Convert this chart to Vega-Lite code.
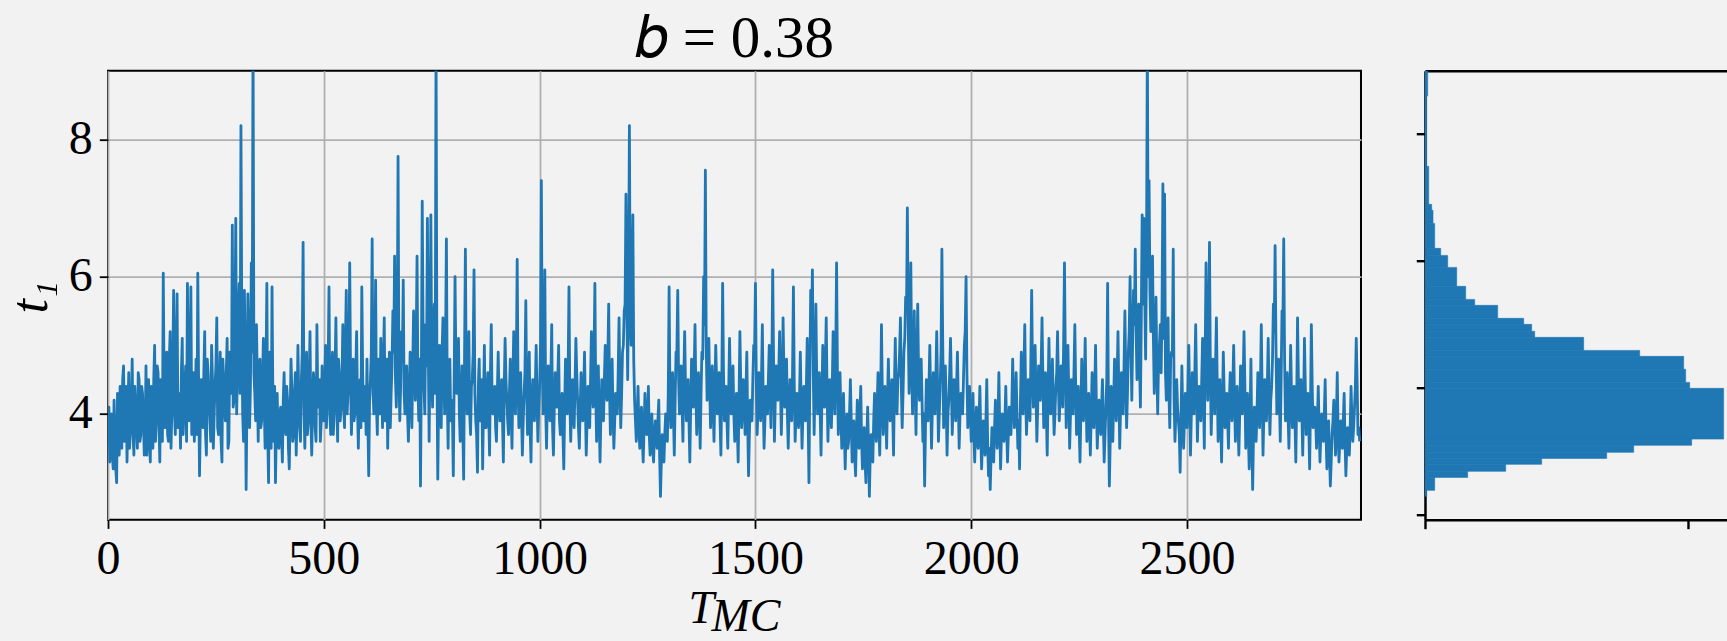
{
"$schema": "https://vega.github.io/schema/vega-lite/v6.json",
"background": "#f2f2f2",
"padding": {"left": 3, "top": 8.7, "right": 0, "bottom": 0},
"config": {
  "font": "Liberation Serif",
  "axis": {"labelFont": "Liberation Serif", "titleFont": "Liberation Serif", "domainColor": "#000000", "tickColor": "#000000", "labelColor": "#000000", "titleColor": "#000000", "gridColor": "#b0b0b0", "gridWidth": 1.8, "titleFontWeight": "normal"}
},
"datasets": {
"trace": [
{"T":0,"t":3.6},{"T":4,"t":3.3},{"T":8,"t":4.0},{"T":12,"t":3.2},{"T":16,"t":3.7},{"T":20,"t":3.0},{"T":24,"t":3.8},{"T":28,"t":4.4},{"T":32,"t":3.5},{"T":36,"t":4.7},{"T":40,"t":3.9},{"T":44,"t":3.3},{"T":48,"t":4.6},{"T":52,"t":3.8},{"T":56,"t":4.8},{"T":60,"t":3.4},{"T":64,"t":4.1},{"T":68,"t":3.5},{"T":72,"t":4.5},{"T":76,"t":3.7},{"T":80,"t":4.3},{"T":84,"t":3.4},{"T":88,"t":4.7},{"T":92,"t":4.0},{"T":96,"t":3.6},
{"T":100,"t":4.4},{"T":104,"t":3.5},{"T":108,"t":5.0},{"T":112,"t":3.9},{"T":116,"t":4.6},{"T":120,"t":3.3},{"T":124,"t":4.2},{"T":128,"t":6.05},{"T":132,"t":3.8},{"T":136,"t":4.9},{"T":140,"t":3.6},{"T":144,"t":5.2},{"T":148,"t":4.1},{"T":152,"t":5.8},{"T":156,"t":3.7},{"T":160,"t":5.75},{"T":164,"t":4.3},{"T":168,"t":3.5},{"T":172,"t":5.1},{"T":176,"t":4.0},{"T":180,"t":4.7},{"T":184,"t":5.9},{"T":188,"t":3.9},{"T":192,"t":5.85},{"T":196,"t":4.2},
{"T":200,"t":3.6},{"T":204,"t":4.8},{"T":208,"t":6.05},{"T":212,"t":3.1},{"T":216,"t":4.5},{"T":220,"t":3.8},{"T":224,"t":5.2},{"T":228,"t":3.4},{"T":232,"t":4.6},{"T":236,"t":3.9},{"T":240,"t":5.0},{"T":244,"t":3.5},{"T":248,"t":4.4},{"T":252,"t":5.4},{"T":256,"t":3.7},{"T":260,"t":4.9},{"T":264,"t":3.3},{"T":268,"t":4.5},{"T":272,"t":3.9},{"T":276,"t":5.1},{"T":280,"t":3.6},{"T":284,"t":4.7},{"T":288,"t":6.75},{"T":292,"t":4.2},{"T":296,"t":6.85},
{"T":300,"t":4.6},{"T":304,"t":5.9},{"T":308,"t":8.2},{"T":312,"t":4.0},{"T":316,"t":5.8},{"T":320,"t":2.9},{"T":324,"t":5.75},{"T":328,"t":3.8},{"T":332,"t":6.2},{"T":336,"t":9.6},{"T":340,"t":4.3},{"T":344,"t":5.3},{"T":348,"t":3.6},{"T":352,"t":4.8},{"T":356,"t":3.9},{"T":360,"t":5.1},{"T":364,"t":3.5},{"T":368,"t":5.9},{"T":372,"t":3.0},{"T":376,"t":4.4},{"T":380,"t":5.85},{"T":384,"t":3.6},{"T":388,"t":3.0},{"T":392,"t":4.3},{"T":396,"t":3.5},
{"T":400,"t":4.1},{"T":404,"t":3.3},{"T":408,"t":4.6},{"T":412,"t":3.7},{"T":416,"t":4.2},{"T":420,"t":3.2},{"T":424,"t":4.8},{"T":428,"t":3.6},{"T":432,"t":4.3},{"T":436,"t":3.4},{"T":440,"t":5.0},{"T":444,"t":3.8},{"T":448,"t":4.5},{"T":452,"t":6.5},{"T":456,"t":3.5},{"T":460,"t":4.9},{"T":464,"t":3.9},{"T":468,"t":5.2},{"T":472,"t":3.4},{"T":476,"t":4.6},{"T":480,"t":3.8},{"T":484,"t":5.3},{"T":488,"t":4.1},{"T":492,"t":3.6},{"T":496,"t":4.7},
{"T":500,"t":3.9},{"T":504,"t":5.0},{"T":508,"t":4.2},{"T":512,"t":5.85},{"T":516,"t":3.7},{"T":520,"t":4.9},{"T":524,"t":4.0},{"T":528,"t":5.4},{"T":532,"t":3.6},{"T":536,"t":4.6},{"T":540,"t":4.1},{"T":544,"t":5.3},{"T":548,"t":3.8},{"T":552,"t":5.8},{"T":556,"t":4.3},{"T":560,"t":6.2},{"T":564,"t":3.7},{"T":568,"t":4.8},{"T":572,"t":4.0},{"T":576,"t":5.2},{"T":580,"t":3.5},{"T":584,"t":4.5},{"T":588,"t":5.85},{"T":592,"t":3.9},{"T":596,"t":4.4},
{"T":600,"t":4.8},{"T":604,"t":3.1},{"T":608,"t":4.5},{"T":612,"t":6.55},{"T":616,"t":4.0},{"T":620,"t":5.95},{"T":624,"t":3.7},{"T":628,"t":4.6},{"T":632,"t":5.1},{"T":636,"t":3.8},{"T":640,"t":5.4},{"T":644,"t":4.2},{"T":648,"t":3.5},{"T":652,"t":4.9},{"T":656,"t":4.3},{"T":660,"t":5.5},{"T":664,"t":6.3},{"T":668,"t":4.1},{"T":672,"t":7.75},{"T":676,"t":3.9},{"T":680,"t":5.2},{"T":684,"t":5.95},{"T":688,"t":4.0},{"T":692,"t":4.7},{"T":696,"t":3.6},
{"T":700,"t":4.9},{"T":704,"t":3.8},{"T":708,"t":5.5},{"T":712,"t":4.2},{"T":716,"t":6.3},{"T":720,"t":3.9},{"T":724,"t":2.95},{"T":728,"t":7.1},{"T":732,"t":4.4},{"T":736,"t":5.3},{"T":740,"t":6.85},{"T":744,"t":3.6},{"T":748,"t":6.9},{"T":752,"t":4.1},{"T":756,"t":5.6},{"T":760,"t":9.5},{"T":764,"t":3.05},{"T":768,"t":5.0},{"T":772,"t":3.8},{"T":776,"t":5.4},{"T":780,"t":4.0},{"T":784,"t":6.55},{"T":788,"t":3.5},{"T":792,"t":4.8},{"T":796,"t":4.2},
{"T":800,"t":3.1},{"T":804,"t":6.0},{"T":808,"t":4.3},{"T":812,"t":5.1},{"T":816,"t":3.6},{"T":820,"t":4.7},{"T":824,"t":3.05},{"T":828,"t":6.4},{"T":832,"t":4.0},{"T":836,"t":5.2},{"T":840,"t":3.7},{"T":844,"t":4.5},{"T":848,"t":6.1},{"T":852,"t":3.9},{"T":856,"t":3.15},{"T":860,"t":4.8},{"T":864,"t":4.1},{"T":868,"t":3.2},{"T":872,"t":5.0},{"T":876,"t":3.8},{"T":880,"t":4.6},{"T":884,"t":3.4},{"T":888,"t":5.3},{"T":892,"t":4.0},{"T":896,"t":4.4},
{"T":900,"t":3.6},{"T":904,"t":4.9},{"T":908,"t":3.9},{"T":912,"t":4.5},{"T":916,"t":3.3},{"T":920,"t":5.1},{"T":924,"t":4.2},{"T":928,"t":3.7},{"T":932,"t":4.8},{"T":936,"t":3.5},{"T":940,"t":5.2},{"T":944,"t":4.0},{"T":948,"t":6.25},{"T":952,"t":3.8},{"T":956,"t":4.6},{"T":960,"t":3.4},{"T":964,"t":4.3},{"T":968,"t":5.65},{"T":972,"t":3.7},{"T":976,"t":4.9},{"T":980,"t":3.3},{"T":984,"t":4.5},{"T":988,"t":3.9},{"T":992,"t":5.0},{"T":996,"t":3.6},
{"T":1000,"t":4.4},{"T":1004,"t":7.4},{"T":1008,"t":4.0},{"T":1012,"t":6.1},{"T":1016,"t":3.5},{"T":1020,"t":4.7},{"T":1024,"t":3.9},{"T":1028,"t":5.3},{"T":1032,"t":3.4},{"T":1036,"t":4.6},{"T":1040,"t":4.1},{"T":1044,"t":5.0},{"T":1048,"t":3.7},{"T":1052,"t":4.3},{"T":1056,"t":3.2},{"T":1060,"t":4.8},{"T":1064,"t":4.0},{"T":1068,"t":5.85},{"T":1072,"t":3.6},{"T":1076,"t":4.5},{"T":1080,"t":3.8},{"T":1084,"t":5.1},{"T":1088,"t":4.2},{"T":1092,"t":3.5},{"T":1096,"t":4.6},
{"T":1100,"t":3.9},{"T":1104,"t":4.9},{"T":1108,"t":3.4},{"T":1112,"t":4.4},{"T":1116,"t":3.8},{"T":1120,"t":5.2},{"T":1124,"t":4.1},{"T":1128,"t":5.9},{"T":1132,"t":3.6},{"T":1136,"t":4.7},{"T":1140,"t":3.3},{"T":1144,"t":4.5},{"T":1148,"t":3.9},{"T":1152,"t":5.0},{"T":1156,"t":4.2},{"T":1160,"t":5.6},{"T":1164,"t":3.7},{"T":1168,"t":4.8},{"T":1172,"t":3.5},{"T":1176,"t":4.3},{"T":1180,"t":4.0},{"T":1184,"t":5.4},{"T":1188,"t":3.8},{"T":1192,"t":4.9},{"T":1196,"t":5.5},
{"T":1200,"t":7.2},{"T":1204,"t":4.5},{"T":1208,"t":8.2},{"T":1212,"t":5.0},{"T":1216,"t":6.9},{"T":1220,"t":4.2},{"T":1224,"t":3.6},{"T":1228,"t":4.4},{"T":1232,"t":3.5},{"T":1236,"t":4.1},{"T":1240,"t":3.3},{"T":1244,"t":4.3},{"T":1248,"t":3.7},{"T":1252,"t":4.4},{"T":1256,"t":3.4},{"T":1260,"t":4.0},{"T":1264,"t":3.3},{"T":1268,"t":3.9},{"T":1272,"t":3.5},{"T":1276,"t":4.2},{"T":1280,"t":2.8},{"T":1284,"t":3.7},{"T":1288,"t":3.3},{"T":1292,"t":4.0},{"T":1296,"t":3.6},
{"T":1300,"t":5.85},{"T":1304,"t":3.8},{"T":1308,"t":4.6},{"T":1312,"t":3.4},{"T":1316,"t":4.9},{"T":1320,"t":5.8},{"T":1324,"t":4.0},{"T":1328,"t":4.7},{"T":1332,"t":3.6},{"T":1336,"t":5.2},{"T":1340,"t":3.9},{"T":1344,"t":4.5},{"T":1348,"t":3.3},{"T":1352,"t":4.8},{"T":1356,"t":4.1},{"T":1360,"t":5.3},{"T":1364,"t":3.7},{"T":1368,"t":4.6},{"T":1372,"t":3.5},{"T":1376,"t":4.9},{"T":1380,"t":6.0},{"T":1384,"t":7.55},{"T":1388,"t":4.2},{"T":1392,"t":5.1},{"T":1396,"t":3.8},
{"T":1400,"t":4.7},{"T":1404,"t":3.6},{"T":1408,"t":5.0},{"T":1412,"t":4.0},{"T":1416,"t":4.6},{"T":1420,"t":3.4},{"T":1424,"t":5.9},{"T":1428,"t":3.9},{"T":1432,"t":4.4},{"T":1436,"t":3.5},{"T":1440,"t":5.1},{"T":1444,"t":4.0},{"T":1448,"t":4.7},{"T":1452,"t":3.6},{"T":1456,"t":4.3},{"T":1460,"t":3.3},{"T":1464,"t":5.2},{"T":1468,"t":3.8},{"T":1472,"t":4.5},{"T":1476,"t":3.7},{"T":1480,"t":4.9},{"T":1484,"t":3.1},{"T":1488,"t":4.2},{"T":1492,"t":3.9},{"T":1496,"t":5.0},
{"T":1500,"t":5.9},{"T":1504,"t":3.7},{"T":1508,"t":4.6},{"T":1512,"t":3.9},{"T":1516,"t":5.3},{"T":1520,"t":3.5},{"T":1524,"t":4.4},{"T":1528,"t":4.0},{"T":1532,"t":5.0},{"T":1536,"t":3.8},{"T":1540,"t":6.1},{"T":1544,"t":3.6},{"T":1548,"t":4.7},{"T":1552,"t":4.2},{"T":1556,"t":5.2},{"T":1560,"t":3.7},{"T":1564,"t":5.4},{"T":1568,"t":4.1},{"T":1572,"t":4.8},{"T":1576,"t":3.5},{"T":1580,"t":4.5},{"T":1584,"t":3.9},{"T":1588,"t":5.85},{"T":1592,"t":3.6},{"T":1596,"t":4.3},
{"T":1600,"t":3.8},{"T":1604,"t":4.9},{"T":1608,"t":3.5},{"T":1612,"t":4.4},{"T":1616,"t":3.9},{"T":1620,"t":5.1},{"T":1624,"t":3.0},{"T":1628,"t":5.8},{"T":1632,"t":6.1},{"T":1636,"t":3.7},{"T":1640,"t":5.6},{"T":1644,"t":4.0},{"T":1648,"t":4.6},{"T":1652,"t":3.4},{"T":1656,"t":5.0},{"T":1660,"t":4.1},{"T":1664,"t":5.4},{"T":1668,"t":3.6},{"T":1672,"t":4.5},{"T":1676,"t":3.8},{"T":1680,"t":5.2},{"T":1684,"t":4.0},{"T":1688,"t":6.2},{"T":1692,"t":3.7},{"T":1696,"t":4.6},
{"T":1700,"t":3.5},{"T":1704,"t":4.3},{"T":1708,"t":3.2},{"T":1712,"t":4.0},{"T":1716,"t":3.6},{"T":1720,"t":4.5},{"T":1724,"t":3.3},{"T":1728,"t":3.9},{"T":1732,"t":3.1},{"T":1736,"t":4.2},{"T":1740,"t":3.5},{"T":1744,"t":4.4},{"T":1748,"t":3.2},{"T":1752,"t":3.8},{"T":1756,"t":3.0},{"T":1760,"t":4.1},{"T":1764,"t":2.8},{"T":1768,"t":3.7},{"T":1772,"t":3.3},{"T":1776,"t":4.3},{"T":1780,"t":3.6},{"T":1784,"t":4.6},{"T":1788,"t":3.4},{"T":1792,"t":5.3},{"T":1796,"t":3.7},
{"T":1800,"t":4.4},{"T":1804,"t":3.5},{"T":1808,"t":4.8},{"T":1812,"t":3.9},{"T":1816,"t":4.5},{"T":1820,"t":3.4},{"T":1824,"t":5.1},{"T":1828,"t":4.0},{"T":1832,"t":4.6},{"T":1836,"t":5.4},{"T":1840,"t":3.8},{"T":1844,"t":4.9},{"T":1848,"t":5.7},{"T":1852,"t":7.0},{"T":1856,"t":4.3},{"T":1860,"t":6.2},{"T":1864,"t":4.0},{"T":1868,"t":5.5},{"T":1872,"t":3.7},{"T":1876,"t":5.6},{"T":1880,"t":4.2},{"T":1884,"t":4.8},{"T":1888,"t":3.6},{"T":1892,"t":2.95},{"T":1896,"t":4.5},
{"T":1900,"t":3.9},{"T":1904,"t":5.0},{"T":1908,"t":3.5},{"T":1912,"t":4.6},{"T":1916,"t":4.0},{"T":1920,"t":5.2},{"T":1924,"t":3.6},{"T":1928,"t":4.4},{"T":1932,"t":6.4},{"T":1936,"t":3.8},{"T":1940,"t":4.7},{"T":1944,"t":3.4},{"T":1948,"t":4.2},{"T":1952,"t":5.1},{"T":1956,"t":3.7},{"T":1960,"t":4.5},{"T":1964,"t":3.9},{"T":1968,"t":4.9},{"T":1972,"t":3.5},{"T":1976,"t":4.3},{"T":1980,"t":4.0},{"T":1984,"t":5.0},{"T":1988,"t":6.0},{"T":1992,"t":3.8},{"T":1996,"t":4.4},
{"T":2000,"t":3.6},{"T":2004,"t":4.3},{"T":2008,"t":3.3},{"T":2012,"t":4.1},{"T":2016,"t":3.5},{"T":2020,"t":4.4},{"T":2024,"t":3.2},{"T":2028,"t":3.9},{"T":2032,"t":3.4},{"T":2036,"t":4.5},{"T":2040,"t":3.1},{"T":2044,"t":2.9},{"T":2048,"t":3.8},{"T":2052,"t":3.3},{"T":2056,"t":4.2},{"T":2060,"t":3.5},{"T":2064,"t":4.6},{"T":2068,"t":3.2},{"T":2072,"t":4.0},{"T":2076,"t":3.6},{"T":2080,"t":4.4},{"T":2084,"t":3.3},{"T":2088,"t":4.1},{"T":2092,"t":3.7},{"T":2096,"t":4.8},
{"T":2100,"t":3.8},{"T":2104,"t":4.6},{"T":2108,"t":3.5},{"T":2112,"t":3.2},{"T":2116,"t":4.9},{"T":2120,"t":4.0},{"T":2124,"t":5.3},{"T":2128,"t":3.7},{"T":2132,"t":4.5},{"T":2136,"t":3.9},{"T":2140,"t":5.8},{"T":2144,"t":4.1},{"T":2148,"t":5.0},{"T":2152,"t":3.6},{"T":2156,"t":4.7},{"T":2160,"t":4.2},{"T":2164,"t":5.4},{"T":2168,"t":3.8},{"T":2172,"t":4.6},{"T":2176,"t":3.4},{"T":2180,"t":5.1},{"T":2184,"t":4.0},{"T":2188,"t":4.8},{"T":2192,"t":3.7},{"T":2196,"t":4.4},
{"T":2200,"t":5.2},{"T":2204,"t":3.9},{"T":2208,"t":4.7},{"T":2212,"t":4.1},{"T":2216,"t":6.2},{"T":2220,"t":3.8},{"T":2224,"t":5.0},{"T":2228,"t":3.5},{"T":2232,"t":4.5},{"T":2236,"t":4.0},{"T":2240,"t":5.3},{"T":2244,"t":3.7},{"T":2248,"t":4.4},{"T":2252,"t":3.3},{"T":2256,"t":4.8},{"T":2260,"t":3.9},{"T":2264,"t":5.1},{"T":2268,"t":3.6},{"T":2272,"t":4.3},{"T":2276,"t":3.4},{"T":2280,"t":4.6},{"T":2284,"t":3.8},{"T":2288,"t":5.0},{"T":2292,"t":3.5},{"T":2296,"t":4.2},
{"T":2300,"t":3.7},{"T":2304,"t":4.5},{"T":2308,"t":3.3},{"T":2312,"t":4.1},{"T":2316,"t":5.9},{"T":2320,"t":2.95},{"T":2324,"t":4.4},{"T":2328,"t":3.6},{"T":2332,"t":4.8},{"T":2336,"t":3.9},{"T":2340,"t":5.2},{"T":2344,"t":3.5},{"T":2348,"t":4.6},{"T":2352,"t":4.0},{"T":2356,"t":5.5},{"T":2360,"t":3.8},{"T":2364,"t":4.9},{"T":2368,"t":6.0},{"T":2372,"t":4.2},{"T":2376,"t":5.8},{"T":2380,"t":6.4},{"T":2384,"t":4.5},{"T":2388,"t":5.6},{"T":2392,"t":4.1},{"T":2396,"t":6.9},
{"T":2400,"t":6.85},{"T":2404,"t":4.8},{"T":2408,"t":9.5},{"T":2412,"t":7.4},{"T":2416,"t":5.2},{"T":2420,"t":6.3},{"T":2424,"t":4.3},{"T":2428,"t":5.7},{"T":2432,"t":4.0},{"T":2436,"t":5.0},{"T":2440,"t":4.6},{"T":2444,"t":7.35},{"T":2448,"t":7.2},{"T":2452,"t":4.2},{"T":2456,"t":5.4},{"T":2460,"t":3.8},{"T":2464,"t":4.9},{"T":2468,"t":6.4},{"T":2472,"t":3.6},{"T":2476,"t":4.5},{"T":2480,"t":3.9},{"T":2484,"t":3.15},{"T":2488,"t":4.7},{"T":2492,"t":3.5},{"T":2496,"t":4.3},
{"T":2500,"t":3.8},{"T":2504,"t":5.0},{"T":2508,"t":3.4},{"T":2512,"t":4.6},{"T":2516,"t":4.0},{"T":2520,"t":5.3},{"T":2524,"t":3.6},{"T":2528,"t":4.4},{"T":2532,"t":3.9},{"T":2536,"t":5.1},{"T":2540,"t":3.5},{"T":2544,"t":6.2},{"T":2548,"t":4.2},{"T":2552,"t":6.5},{"T":2556,"t":3.7},{"T":2560,"t":4.8},{"T":2564,"t":4.0},{"T":2568,"t":5.4},{"T":2572,"t":3.6},{"T":2576,"t":4.5},{"T":2580,"t":3.3},{"T":2584,"t":4.9},{"T":2588,"t":3.8},{"T":2592,"t":4.3},{"T":2596,"t":3.5},
{"T":2600,"t":4.6},{"T":2604,"t":3.9},{"T":2608,"t":5.0},{"T":2612,"t":3.6},{"T":2616,"t":4.4},{"T":2620,"t":3.4},{"T":2624,"t":4.7},{"T":2628,"t":4.0},{"T":2632,"t":5.2},{"T":2636,"t":3.5},{"T":2640,"t":4.3},{"T":2644,"t":3.2},{"T":2648,"t":4.8},{"T":2652,"t":2.9},{"T":2656,"t":4.1},{"T":2660,"t":3.6},{"T":2664,"t":4.6},{"T":2668,"t":3.8},{"T":2672,"t":5.3},{"T":2676,"t":3.4},{"T":2680,"t":4.5},{"T":2684,"t":3.9},{"T":2688,"t":5.1},{"T":2692,"t":3.7},{"T":2696,"t":4.4},
{"T":2700,"t":5.6},{"T":2704,"t":6.45},{"T":2708,"t":4.0},{"T":2712,"t":4.8},{"T":2716,"t":3.6},{"T":2720,"t":5.5},{"T":2724,"t":6.55},{"T":2728,"t":3.9},{"T":2732,"t":4.6},{"T":2736,"t":3.5},{"T":2740,"t":5.0},{"T":2744,"t":3.8},{"T":2748,"t":4.4},{"T":2752,"t":3.3},{"T":2756,"t":5.4},{"T":2760,"t":3.9},{"T":2764,"t":4.5},{"T":2768,"t":3.4},{"T":2772,"t":5.1},{"T":2776,"t":3.7},{"T":2780,"t":4.3},{"T":2784,"t":3.2},{"T":2788,"t":5.3},{"T":2792,"t":3.8},{"T":2796,"t":4.1},
{"T":2800,"t":3.5},{"T":2804,"t":4.4},{"T":2808,"t":3.3},{"T":2812,"t":4.0},{"T":2816,"t":3.6},{"T":2820,"t":4.5},{"T":2824,"t":3.2},{"T":2828,"t":3.9},{"T":2832,"t":2.95},{"T":2836,"t":3.7},{"T":2840,"t":4.2},{"T":2844,"t":3.4},{"T":2848,"t":4.6},{"T":2852,"t":3.3},{"T":2856,"t":3.9},{"T":2860,"t":3.5},{"T":2864,"t":4.3},{"T":2868,"t":3.1},{"T":2872,"t":3.8},{"T":2876,"t":3.4},{"T":2880,"t":4.4},{"T":2884,"t":3.6},{"T":2888,"t":4.1},{"T":2892,"t":5.1},{"T":2896,"t":3.7},{"T":2900,"t":3.6},
{"T":2,"t":4.1},{"T":6,"t":3.9},{"T":10,"t":3.4},{"T":14,"t":4.2},{"T":18,"t":3.2},{"T":22,"t":4.3},{"T":26,"t":3.4},{"T":30,"t":3.9},{"T":34,"t":4.5},{"T":38,"t":3.6},{"T":42,"t":4.4},{"T":46,"t":3.9},{"T":50,"t":3.5},{"T":54,"t":4.1},{"T":58,"t":3.7},{"T":62,"t":4.4},{"T":66,"t":3.8},{"T":70,"t":4.6},{"T":74,"t":3.6},{"T":78,"t":4.4},{"T":82,"t":3.9},{"T":86,"t":3.7},{"T":90,"t":3.4},{"T":94,"t":4.5},{"T":98,"t":3.3},
{"T":102,"t":3.8},{"T":106,"t":4.5},{"T":110,"t":3.6},{"T":114,"t":4.7},{"T":118,"t":3.9},{"T":122,"t":4.5},{"T":126,"t":3.6},{"T":130,"t":4.4},{"T":134,"t":4.3},{"T":138,"t":3.7},{"T":142,"t":4.8},{"T":146,"t":3.5},{"T":150,"t":4.6},{"T":154,"t":4.0},{"T":158,"t":4.9},{"T":162,"t":3.8},{"T":166,"t":4.2},{"T":170,"t":4.6},{"T":174,"t":3.7},{"T":178,"t":4.4},{"T":182,"t":3.6},{"T":186,"t":4.5},{"T":190,"t":4.8},{"T":194,"t":3.7},{"T":198,"t":4.6},
{"T":202,"t":4.2},{"T":206,"t":3.7},{"T":210,"t":4.4},{"T":214,"t":3.9},{"T":218,"t":4.1},{"T":222,"t":4.6},{"T":226,"t":3.7},{"T":230,"t":4.8},{"T":234,"t":4.2},{"T":238,"t":3.6},{"T":242,"t":4.5},{"T":246,"t":4.0},{"T":250,"t":4.7},{"T":254,"t":3.8},{"T":258,"t":4.3},{"T":262,"t":3.6},{"T":266,"t":4.8},{"T":270,"t":4.1},{"T":274,"t":4.6},{"T":278,"t":3.5},{"T":282,"t":4.9},{"T":286,"t":4.3},{"T":290,"t":4.1},{"T":294,"t":5.2},{"T":298,"t":4.0},
{"T":302,"t":5.5},{"T":306,"t":4.3},{"T":310,"t":5.2},{"T":314,"t":3.6},{"T":318,"t":4.7},{"T":322,"t":4.2},{"T":326,"t":5.0},{"T":330,"t":4.4},{"T":334,"t":4.9},{"T":338,"t":4.6},{"T":342,"t":3.9},{"T":346,"t":4.4},{"T":350,"t":4.7},{"T":354,"t":3.8},{"T":358,"t":4.5},{"T":362,"t":4.1},{"T":366,"t":4.6},{"T":370,"t":3.7},{"T":374,"t":4.9},{"T":378,"t":3.5},{"T":382,"t":4.2},{"T":386,"t":4.4},{"T":390,"t":3.8},{"T":394,"t":3.6},{"T":398,"t":4.0},
{"T":402,"t":3.7},{"T":406,"t":4.2},{"T":410,"t":3.8},{"T":414,"t":4.4},{"T":418,"t":3.5},{"T":422,"t":4.0},{"T":426,"t":4.3},{"T":430,"t":3.7},{"T":434,"t":4.6},{"T":438,"t":4.0},{"T":442,"t":4.2},{"T":446,"t":3.6},{"T":450,"t":4.9},{"T":454,"t":4.1},{"T":458,"t":4.3},{"T":462,"t":3.7},{"T":466,"t":4.5},{"T":470,"t":3.9},{"T":474,"t":4.1},{"T":478,"t":4.4},{"T":482,"t":3.6},{"T":486,"t":4.2},{"T":490,"t":4.5},{"T":494,"t":3.9},{"T":498,"t":4.1},
{"T":502,"t":4.4},{"T":506,"t":3.8},{"T":510,"t":4.7},{"T":514,"t":4.0},{"T":518,"t":4.5},{"T":522,"t":3.7},{"T":526,"t":4.6},{"T":530,"t":4.2},{"T":534,"t":4.8},{"T":538,"t":3.9},{"T":542,"t":4.4},{"T":546,"t":4.1},{"T":550,"t":5.0},{"T":554,"t":4.0},{"T":558,"t":4.7},{"T":562,"t":4.5},{"T":566,"t":4.2},{"T":570,"t":3.9},{"T":574,"t":4.6},{"T":578,"t":4.1},{"T":582,"t":4.3},{"T":586,"t":3.8},{"T":590,"t":4.6},{"T":594,"t":4.2},{"T":598,"t":3.7},
{"T":602,"t":3.9},{"T":606,"t":4.2},{"T":610,"t":4.9},{"T":614,"t":4.3},{"T":618,"t":4.5},{"T":622,"t":4.1},{"T":626,"t":4.8},{"T":630,"t":4.0},{"T":634,"t":4.6},{"T":638,"t":4.7},{"T":642,"t":3.9},{"T":646,"t":4.8},{"T":650,"t":4.4},{"T":654,"t":3.8},{"T":658,"t":4.7},{"T":662,"t":4.9},{"T":666,"t":4.5},{"T":670,"t":5.0},{"T":674,"t":4.6},{"T":678,"t":4.4},{"T":682,"t":4.8},{"T":686,"t":4.3},{"T":690,"t":4.5},{"T":694,"t":4.0},{"T":698,"t":4.3},
{"T":702,"t":4.3},{"T":706,"t":4.7},{"T":710,"t":4.6},{"T":714,"t":5.0},{"T":718,"t":4.4},{"T":722,"t":4.8},{"T":726,"t":4.6},{"T":730,"t":5.2},{"T":734,"t":4.0},{"T":738,"t":4.7},{"T":742,"t":5.0},{"T":746,"t":4.9},{"T":750,"t":4.6},{"T":754,"t":5.2},{"T":758,"t":4.3},{"T":762,"t":4.7},{"T":766,"t":4.2},{"T":770,"t":4.6},{"T":774,"t":4.9},{"T":778,"t":4.5},{"T":782,"t":5.0},{"T":786,"t":4.3},{"T":790,"t":4.6},{"T":794,"t":3.9},{"T":798,"t":4.0},
{"T":802,"t":4.5},{"T":806,"t":4.7},{"T":810,"t":4.4},{"T":814,"t":4.0},{"T":818,"t":4.2},{"T":822,"t":3.8},{"T":826,"t":4.8},{"T":830,"t":4.5},{"T":834,"t":4.3},{"T":838,"t":4.0},{"T":842,"t":4.4},{"T":846,"t":4.9},{"T":850,"t":4.3},{"T":854,"t":3.7},{"T":858,"t":4.4},{"T":862,"t":3.9},{"T":866,"t":4.5},{"T":870,"t":4.2},{"T":874,"t":3.8},{"T":878,"t":4.3},{"T":882,"t":4.0},{"T":886,"t":4.6},{"T":890,"t":4.1},{"T":894,"t":4.2},{"T":898,"t":3.8},
{"T":902,"t":4.3},{"T":906,"t":4.2},{"T":910,"t":4.1},{"T":914,"t":3.9},{"T":918,"t":4.4},{"T":922,"t":4.5},{"T":926,"t":3.9},{"T":930,"t":4.3},{"T":934,"t":4.0},{"T":938,"t":4.5},{"T":942,"t":4.2},{"T":946,"t":4.7},{"T":950,"t":4.4},{"T":954,"t":4.1},{"T":958,"t":4.0},{"T":962,"t":3.9},{"T":966,"t":4.6},{"T":970,"t":4.3},{"T":974,"t":4.1},{"T":978,"t":3.8},{"T":982,"t":4.2},{"T":986,"t":4.0},{"T":990,"t":4.4},{"T":994,"t":4.2},{"T":998,"t":4.1},
{"T":1002,"t":5.0},{"T":1006,"t":4.8},{"T":1010,"t":4.6},{"T":1014,"t":4.1},{"T":1018,"t":4.2},{"T":1022,"t":4.3},{"T":1026,"t":4.5},{"T":1030,"t":3.8},{"T":1034,"t":4.1},{"T":1038,"t":4.3},{"T":1042,"t":4.5},{"T":1046,"t":3.9},{"T":1050,"t":4.0},{"T":1054,"t":3.7},{"T":1058,"t":4.1},{"T":1062,"t":4.4},{"T":1066,"t":4.6},{"T":1070,"t":4.2},{"T":1074,"t":4.1},{"T":1078,"t":4.0},{"T":1082,"t":4.4},{"T":1086,"t":4.6},{"T":1090,"t":3.8},{"T":1094,"t":4.1},{"T":1098,"t":4.2},
{"T":1102,"t":4.3},{"T":1106,"t":4.1},{"T":1110,"t":3.9},{"T":1114,"t":4.0},{"T":1118,"t":4.5},{"T":1122,"t":4.4},{"T":1126,"t":4.8},{"T":1130,"t":4.3},{"T":1134,"t":4.1},{"T":1138,"t":3.9},{"T":1142,"t":4.0},{"T":1146,"t":4.2},{"T":1150,"t":4.5},{"T":1154,"t":4.4},{"T":1158,"t":4.8},{"T":1162,"t":4.3},{"T":1166,"t":4.2},{"T":1170,"t":4.0},{"T":1174,"t":3.9},{"T":1178,"t":4.2},{"T":1182,"t":4.6},{"T":1186,"t":4.4},{"T":1190,"t":4.3},{"T":1194,"t":5.0},{"T":1198,"t":5.6},
{"T":1202,"t":5.6},{"T":1206,"t":5.8},{"T":1210,"t":5.4},{"T":1214,"t":5.8},{"T":1218,"t":4.8},{"T":1222,"t":3.9},{"T":1226,"t":4.0},{"T":1230,"t":3.8},{"T":1234,"t":3.9},{"T":1238,"t":3.6},{"T":1242,"t":3.8},{"T":1246,"t":4.0},{"T":1250,"t":3.9},{"T":1254,"t":3.7},{"T":1258,"t":3.8},{"T":1262,"t":3.5},{"T":1266,"t":3.7},{"T":1270,"t":3.8},{"T":1274,"t":3.9},{"T":1278,"t":3.4},{"T":1282,"t":3.3},{"T":1286,"t":3.6},{"T":1290,"t":3.7},{"T":1294,"t":3.9},{"T":1298,"t":4.3},
{"T":1302,"t":4.2},{"T":1306,"t":4.1},{"T":1310,"t":4.0},{"T":1314,"t":4.2},{"T":1318,"t":4.9},{"T":1322,"t":4.5},{"T":1326,"t":4.3},{"T":1330,"t":4.1},{"T":1334,"t":4.5},{"T":1338,"t":4.4},{"T":1342,"t":4.1},{"T":1346,"t":3.9},{"T":1350,"t":4.1},{"T":1354,"t":4.5},{"T":1358,"t":4.6},{"T":1362,"t":4.3},{"T":1366,"t":4.2},{"T":1370,"t":4.1},{"T":1374,"t":4.3},{"T":1378,"t":4.8},{"T":1382,"t":5.3},{"T":1386,"t":5.0},{"T":1390,"t":4.6},{"T":1394,"t":4.4},{"T":1398,"t":4.2},
{"T":1402,"t":4.1},{"T":1406,"t":4.3},{"T":1410,"t":4.5},{"T":1414,"t":4.2},{"T":1418,"t":3.9},{"T":1422,"t":4.4},{"T":1426,"t":4.6},{"T":1430,"t":4.1},{"T":1434,"t":3.9},{"T":1438,"t":4.3},{"T":1442,"t":4.4},{"T":1446,"t":4.3},{"T":1450,"t":4.0},{"T":1454,"t":3.9},{"T":1458,"t":3.8},{"T":1462,"t":4.2},{"T":1466,"t":4.4},{"T":1470,"t":4.1},{"T":1474,"t":4.2},{"T":1478,"t":4.3},{"T":1482,"t":3.9},{"T":1486,"t":3.7},{"T":1490,"t":4.0},{"T":1494,"t":4.5},{"T":1498,"t":4.9},
{"T":1502,"t":4.5},{"T":1506,"t":4.1},{"T":1510,"t":4.3},{"T":1514,"t":4.5},{"T":1518,"t":4.2},{"T":1522,"t":3.9},{"T":1526,"t":4.1},{"T":1530,"t":4.5},{"T":1534,"t":4.3},{"T":1538,"t":4.7},{"T":1542,"t":4.8},{"T":1546,"t":4.2},{"T":1550,"t":4.4},{"T":1554,"t":4.6},{"T":1558,"t":4.4},{"T":1562,"t":4.3},{"T":1566,"t":4.6},{"T":1570,"t":4.5},{"T":1574,"t":4.0},{"T":1578,"t":4.1},{"T":1582,"t":4.2},{"T":1586,"t":4.6},{"T":1590,"t":4.4},{"T":1594,"t":4.0},{"T":1598,"t":4.0},
{"T":1602,"t":4.2},{"T":1606,"t":4.1},{"T":1610,"t":4.0},{"T":1614,"t":4.2},{"T":1618,"t":4.4},{"T":1622,"t":4.0},{"T":1626,"t":4.5},{"T":1630,"t":5.2},{"T":1634,"t":4.6},{"T":1638,"t":4.4},{"T":1642,"t":4.5},{"T":1646,"t":4.3},{"T":1650,"t":4.0},{"T":1654,"t":4.2},{"T":1658,"t":4.6},{"T":1662,"t":4.7},{"T":1666,"t":4.3},{"T":1670,"t":4.1},{"T":1674,"t":4.2},{"T":1678,"t":4.4},{"T":1682,"t":4.3},{"T":1686,"t":4.8},{"T":1690,"t":4.6},{"T":1694,"t":4.1},{"T":1698,"t":4.0},
{"T":1702,"t":3.9},{"T":1706,"t":3.7},{"T":1710,"t":3.8},{"T":1714,"t":3.5},{"T":1718,"t":4.0},{"T":1722,"t":3.9},{"T":1726,"t":3.6},{"T":1730,"t":3.4},{"T":1734,"t":3.7},{"T":1738,"t":3.9},{"T":1742,"t":4.0},{"T":1746,"t":3.6},{"T":1750,"t":3.5},{"T":1754,"t":3.3},{"T":1758,"t":3.6},{"T":1762,"t":3.5},{"T":1766,"t":3.4},{"T":1770,"t":3.5},{"T":1774,"t":3.9},{"T":1778,"t":4.0},{"T":1782,"t":4.1},{"T":1786,"t":3.8},{"T":1790,"t":4.2},{"T":1794,"t":4.3},{"T":1798,"t":4.1},
{"T":1802,"t":4.0},{"T":1806,"t":4.2},{"T":1810,"t":4.1},{"T":1814,"t":4.3},{"T":1818,"t":4.0},{"T":1822,"t":4.4},{"T":1826,"t":4.3},{"T":1830,"t":4.5},{"T":1834,"t":4.9},{"T":1838,"t":4.4},{"T":1842,"t":4.3},{"T":1846,"t":5.1},{"T":1850,"t":5.5},{"T":1854,"t":5.3},{"T":1858,"t":5.0},{"T":1862,"t":4.7},{"T":1866,"t":4.8},{"T":1870,"t":4.4},{"T":1874,"t":4.7},{"T":1878,"t":4.6},{"T":1882,"t":4.5},{"T":1886,"t":4.2},{"T":1890,"t":4.0},{"T":1894,"t":3.8},{"T":1898,"t":4.1},
{"T":1902,"t":4.4},{"T":1906,"t":4.2},{"T":1910,"t":4.1},{"T":1914,"t":4.3},{"T":1918,"t":4.5},{"T":1922,"t":4.4},{"T":1926,"t":4.0},{"T":1930,"t":4.9},{"T":1934,"t":5.0},{"T":1938,"t":4.3},{"T":1942,"t":4.1},{"T":1946,"t":4.0},{"T":1950,"t":4.6},{"T":1954,"t":4.4},{"T":1958,"t":4.2},{"T":1962,"t":4.1},{"T":1966,"t":4.4},{"T":1970,"t":4.2},{"T":1974,"t":4.0},{"T":1978,"t":4.2},{"T":1982,"t":4.5},{"T":1986,"t":5.2},{"T":1990,"t":4.6},{"T":1994,"t":4.2},{"T":1998,"t":4.0},
{"T":2002,"t":3.9},{"T":2006,"t":3.7},{"T":2010,"t":3.8},{"T":2014,"t":3.6},{"T":2018,"t":3.9},{"T":2022,"t":3.7},{"T":2026,"t":3.6},{"T":2030,"t":3.7},{"T":2034,"t":3.9},{"T":2038,"t":3.6},{"T":2042,"t":3.5},{"T":2046,"t":3.4},{"T":2050,"t":3.6},{"T":2054,"t":3.8},{"T":2058,"t":3.9},{"T":2062,"t":3.9},{"T":2066,"t":3.8},{"T":2070,"t":3.7},{"T":2074,"t":3.8},{"T":2078,"t":3.9},{"T":2082,"t":3.8},{"T":2086,"t":3.7},{"T":2090,"t":3.9},{"T":2094,"t":4.1},{"T":2098,"t":4.2},
{"T":2102,"t":4.1},{"T":2106,"t":4.0},{"T":2110,"t":3.9},{"T":2114,"t":4.2},{"T":2118,"t":4.4},{"T":2122,"t":4.6},{"T":2126,"t":4.3},{"T":2130,"t":4.1},{"T":2134,"t":4.3},{"T":2138,"t":4.7},{"T":2142,"t":4.6},{"T":2146,"t":4.5},{"T":2150,"t":4.3},{"T":2154,"t":4.1},{"T":2158,"t":4.4},{"T":2162,"t":4.7},{"T":2166,"t":4.5},{"T":2170,"t":4.2},{"T":2174,"t":4.0},{"T":2178,"t":4.3},{"T":2182,"t":4.4},{"T":2186,"t":4.3},{"T":2190,"t":4.2},{"T":2194,"t":4.0},{"T":2198,"t":4.6},
{"T":2202,"t":4.4},{"T":2206,"t":4.3},{"T":2210,"t":4.4},{"T":2214,"t":5.0},{"T":2218,"t":4.8},{"T":2222,"t":4.4},{"T":2226,"t":4.3},{"T":2230,"t":4.0},{"T":2234,"t":4.2},{"T":2238,"t":4.6},{"T":2242,"t":4.4},{"T":2246,"t":4.1},{"T":2250,"t":3.8},{"T":2254,"t":4.0},{"T":2258,"t":4.3},{"T":2262,"t":4.4},{"T":2266,"t":4.2},{"T":2270,"t":3.9},{"T":2274,"t":3.8},{"T":2278,"t":4.0},{"T":2282,"t":4.2},{"T":2286,"t":4.3},{"T":2290,"t":4.1},{"T":2294,"t":3.9},{"T":2298,"t":4.0},
{"T":2302,"t":4.1},{"T":2306,"t":3.9},{"T":2310,"t":3.7},{"T":2314,"t":4.5},{"T":2318,"t":4.0},{"T":2322,"t":3.6},{"T":2326,"t":4.0},{"T":2330,"t":4.2},{"T":2334,"t":4.4},{"T":2338,"t":4.5},{"T":2342,"t":4.3},{"T":2346,"t":4.1},{"T":2350,"t":4.3},{"T":2354,"t":4.7},{"T":2358,"t":4.6},{"T":2362,"t":4.3},{"T":2366,"t":5.2},{"T":2370,"t":5.0},{"T":2374,"t":5.1},{"T":2378,"t":5.3},{"T":2382,"t":5.2},{"T":2386,"t":4.9},{"T":2390,"t":4.7},{"T":2394,"t":5.4},{"T":2398,"t":5.6},
{"T":2402,"t":5.7},{"T":2406,"t":6.2},{"T":2410,"t":6.0},{"T":2414,"t":5.8},{"T":2418,"t":5.5},{"T":2422,"t":5.1},{"T":2426,"t":4.9},{"T":2430,"t":4.7},{"T":2434,"t":4.8},{"T":2438,"t":5.3},{"T":2442,"t":5.5},{"T":2446,"t":5.1},{"T":2450,"t":4.6},{"T":2454,"t":4.5},{"T":2458,"t":4.3},{"T":2462,"t":4.8},{"T":2466,"t":4.9},{"T":2470,"t":4.2},{"T":2474,"t":4.0},{"T":2478,"t":4.1},{"T":2482,"t":3.7},{"T":2486,"t":3.9},{"T":2490,"t":4.0},{"T":2494,"t":3.9},{"T":2498,"t":4.1},
{"T":2502,"t":4.4},{"T":2506,"t":4.2},{"T":2510,"t":4.0},{"T":2514,"t":4.3},{"T":2518,"t":4.6},{"T":2522,"t":4.4},{"T":2526,"t":4.1},{"T":2530,"t":4.2},{"T":2534,"t":4.5},{"T":2538,"t":4.3},{"T":2542,"t":4.9},{"T":2546,"t":5.0},{"T":2550,"t":5.2},{"T":2554,"t":4.6},{"T":2558,"t":4.3},{"T":2562,"t":4.4},{"T":2566,"t":4.7},{"T":2570,"t":4.4},{"T":2574,"t":4.0},{"T":2578,"t":3.9},{"T":2582,"t":4.1},{"T":2586,"t":4.3},{"T":2590,"t":4.0},{"T":2594,"t":3.9},{"T":2598,"t":4.2},
{"T":2602,"t":4.3},{"T":2606,"t":4.4},{"T":2610,"t":4.2},{"T":2614,"t":4.0},{"T":2618,"t":3.9},{"T":2622,"t":4.0},{"T":2626,"t":4.3},{"T":2630,"t":4.5},{"T":2634,"t":4.4},{"T":2638,"t":3.9},{"T":2642,"t":3.7},{"T":2646,"t":3.9},{"T":2650,"t":3.6},{"T":2654,"t":3.7},{"T":2658,"t":3.9},{"T":2662,"t":4.0},{"T":2666,"t":4.2},{"T":2670,"t":4.4},{"T":2674,"t":4.3},{"T":2678,"t":4.0},{"T":2682,"t":4.2},{"T":2686,"t":4.4},{"T":2690,"t":4.3},{"T":2694,"t":4.2},{"T":2698,"t":4.8},
{"T":2702,"t":5.2},{"T":2706,"t":5.0},{"T":2710,"t":4.4},{"T":2714,"t":4.2},{"T":2718,"t":4.5},{"T":2722,"t":5.3},{"T":2726,"t":4.8},{"T":2730,"t":4.2},{"T":2734,"t":4.0},{"T":2738,"t":4.2},{"T":2742,"t":4.3},{"T":2746,"t":4.1},{"T":2750,"t":3.9},{"T":2754,"t":4.2},{"T":2758,"t":4.5},{"T":2762,"t":4.2},{"T":2766,"t":4.0},{"T":2770,"t":4.1},{"T":2774,"t":4.4},{"T":2778,"t":4.0},{"T":2782,"t":3.8},{"T":2786,"t":4.1},{"T":2790,"t":4.4},{"T":2794,"t":4.0},{"T":2798,"t":3.9},
{"T":2802,"t":3.9},{"T":2806,"t":3.8},{"T":2810,"t":3.7},{"T":2814,"t":3.8},{"T":2818,"t":4.0},{"T":2822,"t":3.7},{"T":2826,"t":3.5},{"T":2830,"t":3.4},{"T":2834,"t":3.3},{"T":2838,"t":3.9},{"T":2842,"t":3.8},{"T":2846,"t":3.9},{"T":2850,"t":3.7},{"T":2854,"t":3.6},{"T":2858,"t":3.7},{"T":2862,"t":3.9},{"T":2866,"t":3.6},{"T":2870,"t":3.5},{"T":2874,"t":3.6},{"T":2878,"t":3.8},{"T":2882,"t":3.9},{"T":2886,"t":3.8},{"T":2890,"t":4.4},{"T":2894,"t":4.5},{"T":2898,"t":3.8}
],
"hist": [
{"lo":8.631,"hi":9.0,"d":0.0103},{"lo":7.607,"hi":8.631,"d":0.0065},{"lo":7.053,"hi":7.607,"d":0.0141},{"lo":6.966,"hi":7.053,"d":0.0255},{"lo":6.776,"hi":6.966,"d":0.0305},{"lo":6.412,"hi":6.776,"d":0.0369},{"lo":6.31,"hi":6.412,"d":0.0598},{"lo":6.135,"hi":6.31,"d":0.0864},{"lo":5.859,"hi":6.135,"d":0.1207},{"lo":5.669,"hi":5.859,"d":0.1549},{"lo":5.582,"hi":5.669,"d":0.1892},{"lo":5.393,"hi":5.582,"d":0.2767},{"lo":5.305,"hi":5.393,"d":0.3757},{"lo":5.203,"hi":5.305,"d":0.4062},{"lo":5.116,"hi":5.203,"d":0.4176},{"lo":4.926,"hi":5.116,"d":0.6041},{"lo":4.839,"hi":4.926,"d":0.8173},{"lo":4.65,"hi":4.839,"d":0.9848},{"lo":4.46,"hi":4.65,"d":0.9924},{"lo":4.373,"hi":4.46,"d":1.0076},{"lo":3.634,"hi":4.373,"d":1.137},{"lo":3.543,"hi":3.634,"d":1.0152},{"lo":3.441,"hi":3.543,"d":0.7945},{"lo":3.353,"hi":3.441,"d":0.6917},{"lo":3.266,"hi":3.353,"d":0.4442},{"lo":3.164,"hi":3.266,"d":0.3072},{"lo":3.076,"hi":3.164,"d":0.1625},{"lo":2.887,"hi":3.076,"d":0.0369},{"lo":2.8,"hi":2.887,"d":0.0065}
]
},
"spacing": 53,
"hconcat": [
{
  "width": 1253,
  "height": 449,
  "title": {"text": "𝑏 = 0.38", "fontSize": 59, "font": "Liberation Serif", "fontWeight": "normal", "anchor": "middle", "baseline": "alphabetic", "offset": -45, "color": "#000000"},
  "view": {"stroke": "#000000", "strokeWidth": 2},
  "data": {"name": "trace"},
  "mark": {"type": "line", "color": "#1f77b4", "strokeWidth": 2.8, "strokeJoin": "round", "clip": true},
  "encoding": {
    "x": {"field": "T", "type": "quantitative",
      "scale": {"domain": [0, 2903], "nice": false, "zero": false},
      "axis": {"values": [0, 500, 1000, 1500, 2000, 2500], "format": "d", "labelFontSize": 48, "tickSize": 8.7, "tickWidth": 1.8, "domain": false, "labelPadding": 7, "grid": true, "labelFlush": false, "labelOverlap": false,
        "title": ["T", "\u200b\u00a0\u00a0MC"], "titleFontSize": 46, "titleFontStyle": "italic", "titleLineHeight": 8, "titleAlign": "left", "titleAnchor": "start", "titleX": 580, "titleY": 103, "titleBaseline": "alphabetic"}},
    "y": {"field": "t", "type": "quantitative",
      "scale": {"domain": [2.46, 9.0], "nice": false, "zero": false},
      "axis": {"values": [4, 6, 8], "format": "d", "labelFontSize": 48, "tickSize": 8.7, "tickWidth": 1.8, "domain": false, "labelPadding": 7, "grid": true,
        "title": "t₁", "titleFontSize": 52, "titleFontStyle": "italic", "titleAngle": 270, "titleAlign": "center", "titleBaseline": "alphabetic", "titleX": -62, "titleY": 226}}
  }
},
{
  "width": 303,
  "height": 449,
  "view": {"stroke": null},
  "data": {"name": "hist"},
  "layer": [
    {
      "mark": {"type": "rect", "color": "#1f77b4", "stroke": "#1f77b4", "strokeWidth": 0.6, "clip": true},
      "encoding": {
        "y": {"field": "lo", "type": "quantitative", "scale": {"domain": [2.46, 9.0], "nice": false, "zero": false},
          "axis": {"values": [2.527, 4.377, 6.227, 8.077], "labels": false, "title": null, "grid": false, "tickSize": 8.7, "tickWidth": 2.4, "domainWidth": 2.5}},
        "y2": {"field": "hi"},
        "x": {"field": "d", "type": "quantitative", "scale": {"domain": [0, 1.1535], "nice": false, "zero": false},
          "axis": {"values": [0, 1], "labels": false, "title": null, "grid": false, "tickSize": 9, "tickWidth": 2.4, "domainWidth": 2.5}},
        "x2": {"datum": 0}
      }
    },
    {
      "mark": {"type": "point", "opacity": 0},
      "encoding": {
        "x": {"field": "d", "type": "quantitative",
          "axis": {"orient": "top", "ticks": false, "labels": false, "title": null, "grid": false, "domainWidth": 2.5}}
      }
    }
  ],
  "resolve": {"axis": {"x": "independent"}}
}
]
}
